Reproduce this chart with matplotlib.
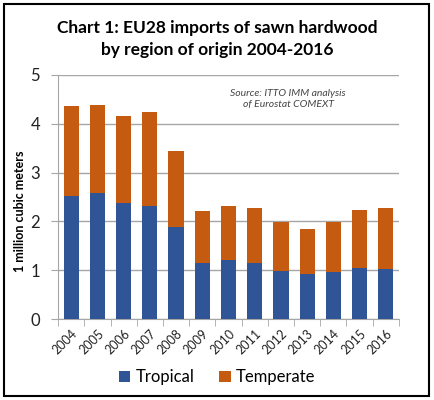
import numpy as np
import matplotlib.pyplot as plt
from matplotlib.patches import Rectangle

plt.rcParams['font.family'] = ['Lato', 'DejaVu Sans']

# values (million m3)
years = ['2004', '2005', '2006', '2007', '2008', '2009', '2010',
         '2011', '2012', '2013', '2014', '2015', '2016']
tropical = [2.52, 2.58, 2.37, 2.31, 1.88, 1.14, 1.21, 1.14, 0.99, 0.92, 0.97, 1.04, 1.03]
total = [4.36, 4.38, 4.16, 4.24, 3.44, 2.21, 2.31, 2.27, 1.99, 1.84, 1.99, 2.23, 2.27]
temperate = [t - tr for t, tr in zip(total, tropical)]

blue = '#2F5597'
orange = '#C55A11'
grey = '#A6A6A6'

fig = plt.figure(figsize=(4.34, 4.0), dpi=100)
ax = fig.add_axes([0.134, 0.202, 0.785, 0.611])

x = np.arange(len(years))
ax.bar(x, tropical, width=0.58, color=blue, label='Tropical', zorder=3)
ax.bar(x, temperate, width=0.58, bottom=tropical, color=orange, label='Temperate', zorder=3)

ax.set_xlim(-0.5, len(years) - 0.5)
ax.set_ylim(0, 5)
ax.set_yticks(range(6))
ax.tick_params(axis='y', labelsize=12, length=5, pad=8, color=grey, labelcolor='#222222')
ax.yaxis.grid(True, color=grey, lw=1, zorder=0)

# category labels, boundary tick marks between bars
ax.set_xticks(x)
ax.set_xticklabels(years, rotation=45, fontsize=9, ha='right', va='top',
                   rotation_mode='anchor')
ax.tick_params(axis='x', length=0, pad=6, labelcolor='#222222')
ax.set_xticks(np.arange(-0.5, len(years)), minor=True)
ax.tick_params(axis='x', which='minor', length=5, color=grey)

for s in ['top', 'right']:
    ax.spines[s].set_visible(False)
for s in ['left', 'bottom']:
    ax.spines[s].set_color(grey)

ax.set_ylabel('1 million cubic meters', fontsize=9, fontweight='bold')
ax.yaxis.set_label_coords(-0.095, 0.443)

fig.text(0.5, 0.903, 'Chart 1: EU28 imports of sawn hardwood\nby region of origin 2004-2016',
         ha='center', va='center', fontsize=12.5, fontweight='bold', linespacing=1.5)

ax.text(0.675, 0.9, 'Source: ITTO IMM analysis\nof Eurostat COMEXT', transform=ax.transAxes,
        ha='center', va='center', fontsize=7.5, style='italic', color='#444444',
        linespacing=1.25)

fig.legend(loc='center', bbox_to_anchor=(0.5, 0.057), ncol=2, frameon=False,
           fontsize=12, handlelength=0.7, handleheight=0.7, handletextpad=0.3,
           columnspacing=1.5)

fig.add_artist(Rectangle((4 / 434, 4 / 400), 425 / 434, 392 / 400,
                         transform=fig.transFigure, fill=False, lw=1.5, ec='black'))

fig.savefig('out.png', dpi=100)
